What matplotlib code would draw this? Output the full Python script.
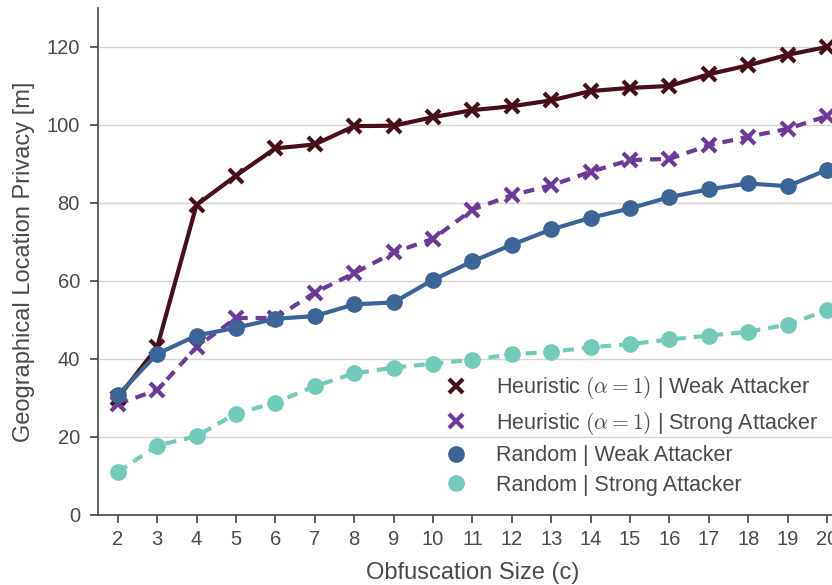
import matplotlib
matplotlib.use("Agg")
import matplotlib.pyplot as plt
from matplotlib.lines import Line2D

plt.rcParams["font.family"] = ["Liberation Sans", "DejaVu Sans"]
plt.rcParams["mathtext.fontset"] = "cm"

sizes = list(range(2, 21))

heur_weak = [30, 43, 79.5, 87, 94, 95, 99.7, 99.8, 102, 103.8, 104.8, 106.3,
             108.7, 109.5, 110, 113, 115.3, 118, 120]
heur_strong = [28.5, 32, 43, 50.5, 50.5, 57, 62, 67.3, 70.8, 78.3, 82, 84.5,
               88, 91, 91.3, 94.8, 97, 99, 102.3]
rand_weak = [30.7, 41.3, 46, 48, 50.3, 51, 54, 54.5, 60.3, 65, 69.3, 73.2,
             76.2, 78.6, 81.5, 83.5, 85, 84.3, 88.5]
rand_strong = [11, 17.8, 20.2, 26, 28.8, 33, 36.3, 37.8, 38.8, 39.8, 41.2, 41.8,
               43, 43.8, 45, 46, 47, 48.8, 52.5]

labels = [r"Heuristic $(\alpha = 1)$ | Weak Attacker",
          r"Heuristic $(\alpha = 1)$ | Strong Attacker",
          "Random | Weak Attacker",
          "Random | Strong Attacker"]

c_hw = "#4a0d1a"
c_hs = "#6b3a9a"
c_rw = "#3b6598"
c_rs = "#72cbb9"
txt = "#4a4a4a"

fig = plt.figure(figsize=(8.32, 5.85), dpi=100)
ax = fig.add_axes([0.1178, 0.1197, 0.9, 0.8667])

lw = 3
ax.plot(sizes, heur_weak, color=c_hw, lw=lw, marker="x", ms=10, mew=3, zorder=4)
ax.plot(sizes, heur_strong, color=c_hs, lw=lw, ls="--", dashes=(2.6, 1.9),
        marker="x", ms=10, mew=3, zorder=3)
ax.plot(sizes, rand_weak, color=c_rw, lw=lw, marker="o", ms=11, zorder=5)
ax.plot(sizes, rand_strong, color=c_rs, lw=lw, ls="--", dashes=(2.6, 1.9),
        marker="o", ms=11, zorder=2)

ax.set_xlim(1.5, 20.5)
ax.set_ylim(0, 130)
ax.set_xticks(sizes)
ax.set_yticks(range(0, 121, 20))
ax.yaxis.grid(True, color="#d3d3d3", lw=1)
ax.set_axisbelow(True)

for s in ["top", "right"]:
    ax.spines[s].set_visible(False)
for s in ["left", "bottom"]:
    ax.spines[s].set_color("#444444")
    ax.spines[s].set_linewidth(1.2)

ax.tick_params(axis="both", direction="out", length=6, width=1.2,
               color="#444444", labelcolor=txt, labelsize=14.5)
ax.tick_params(axis="y", pad=7)
ax.tick_params(axis="x", pad=5)

ax.set_xlabel("Obfuscation Size (c)", fontsize=17, color=txt, labelpad=9)
ax.set_ylabel("Geographical Location Privacy [m]", fontsize=17, color=txt, labelpad=8)

handles = [
    Line2D([], [], ls="none", marker="x", color=c_hw, ms=10, mew=3),
    Line2D([], [], ls="none", marker="x", color=c_hs, ms=10, mew=3),
    Line2D([], [], ls="none", marker="o", color=c_rw, ms=11),
    Line2D([], [], ls="none", marker="o", color=c_rs, ms=11),
]
leg = ax.legend(handles, labels, loc="upper left", bbox_to_anchor=(0.424, 0.316),
                frameon=False, fontsize=15.5, handletextpad=0.85,
                labelspacing=0.4)
for t in leg.get_texts():
    t.set_color(txt)

fig.savefig("out.png", dpi=100)
